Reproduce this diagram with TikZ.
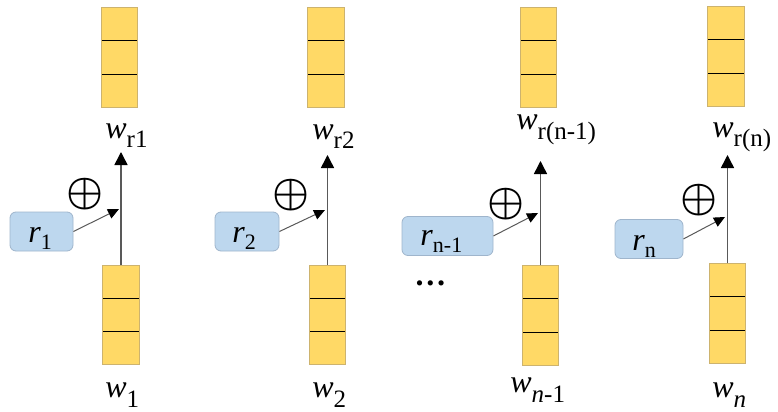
\documentclass[tikz,border=0pt]{standalone}
\usepackage{fontspec}
\usepackage{graphicx}
\setmainfont{Liberation Serif}
\usetikzlibrary{arrows.meta,calc}

\definecolor{boxyellow}{HTML}{FFD966}
\definecolor{boxedge}{HTML}{CDB36E}
\definecolor{rblue}{HTML}{BDD7EE}
\definecolor{redge}{HTML}{9FB5CC}
\definecolor{linegray}{HTML}{595959}

% lowered subscripts
\newcommand{\wsub}[1]{\raisebox{-5pt}{\fontsize{12.5}{12.5}\selectfont #1}}
\newcommand{\rsub}[1]{\raisebox{-3.5pt}{\fontsize{11}{11}\selectfont #1}}

\tikzset{
  wvec/.style={draw=boxedge, fill=boxyellow, line width=0.4pt,
    minimum width=18.25pt, minimum height=49.75pt, inner sep=0pt,
    path picture={
      \foreach \f in {1,2}
        \draw[black, line width=0.5pt]
          ($(path picture bounding box.north west)!\f/3!(path picture bounding box.south west)$) --
          ($(path picture bounding box.north east)!\f/3!(path picture bounding box.south east)$);
    }},
  rvec/.style={draw=redge, fill=rblue, rounded corners=3pt, minimum height=19.5pt, inner sep=0pt},
  wlabel/.style={anchor=base west, inner sep=0pt, font=\fontsize{16}{16}\selectfont},
  addsym/.style={inner sep=0pt, font=\fontsize{22}{22}\selectfont\boldmath},
  flow/.style={draw=linegray, line width=0.75pt,
    -{Triangle[length=6.5pt,width=6.5pt,color=black]}},
  inject/.style={draw=linegray, line width=0.5pt,
    -{Triangle[length=5.5pt,width=5pt,color=black]}},
}

\begin{document}
\begin{tikzpicture}[x=0.5pt, y=-0.5pt]
  \useasboundingbox (0,0) rectangle (778,412);

  % Output vectors (top)
  \node[wvec] (wr1) at (119.5,57.5) {};
  \node[wvec] (wr2) at (326,57.5) {};
  \node[wvec] (wr3) at (538.5,57.5) {};
  \node[wvec] (wr4) at (726,56.5) {};

  % Input vectors (bottom)
  \node[wvec] (w1) at (121,315) {};
  \node[wvec] (w2) at (327.5,315) {};
  \node[wvec] (w3) at (540.5,315.5) {};
  \node[wvec] (w4) at (727.5,313.5) {};

  % Labels
  \node[wlabel] (lwr1) at (105,138) {\textit{w}\wsub{r1}};
  \node[wlabel] (lwr2) at (312,139) {\textit{w}\wsub{r2}};
  \node[wlabel] (lwr3) at (516,129) {\textit{w}\wsub{r(n-1)}};
  \node[wlabel] (lwr4) at (712,137) {\textit{w}\wsub{r(n)}};
  \node[wlabel] (lw1) at (105,397) {\textit{w}\wsub{1}};
  \node[wlabel] (lw2) at (312,397) {\textit{w}\wsub{2}};
  \node[wlabel] (lw3) at (510,392) {\textit{w}\wsub{\textit{n}-1}};
  \node[wlabel] (lw4) at (712,397) {\textit{w}\wsub{\textit{n}}};

  % Relation vectors
  \node[rvec, minimum width=31.5pt] (r1) at (41.5,231.5) {};
  \node[rvec, minimum width=32pt] (r2) at (247,231.5) {};
  \node[rvec, minimum width=45.5pt] (r3) at (447.5,236) {};
  \node[rvec, minimum width=34pt] (r4) at (649,239) {};
  \node[wlabel] (lr1) at (28,242) {\textit{r}\rsub{1}};
  \node[wlabel] (lr2) at (232,242) {\textit{r}\rsub{2}};
  \node[wlabel] (lr3) at (420,245) {\textit{r}\rsub{n-1}};
  \node[wlabel] (lr4) at (632,250) {\textit{r}\rsub{n}};
  \node[wlabel, text height=3pt, font=\bfseries\fontsize{16}{16}\selectfont] (dots) at (414,285) {…};

  % Addition signs
  \node[addsym] (plus1) at (85,194) {$\oplus$};
  \node[addsym] (plus2) at (291,195) {$\oplus$};
  \node[addsym] (plus3) at (506,204) {$\oplus$};
  \node[addsym] (plus4) at (699,200) {$\oplus$};

  % Arrow ends
  \coordinate (top1) at (121,152);
  \coordinate (top2) at (327.5,155);
  \coordinate (top3) at (540.5,161);
  \coordinate (top4) at (727.5,155);
  \coordinate (add1) at (119,209);
  \coordinate (add2) at (325,210);
  \coordinate (add3) at (538,213);
  \coordinate (add4) at (725,217);

  % Connections
  \foreach \i in {1,...,4} {
    \draw[flow] (w\i.north) -- (top\i);
    \draw[inject] (r\i.east) -- (add\i);
  }
\end{tikzpicture}
\end{document}
